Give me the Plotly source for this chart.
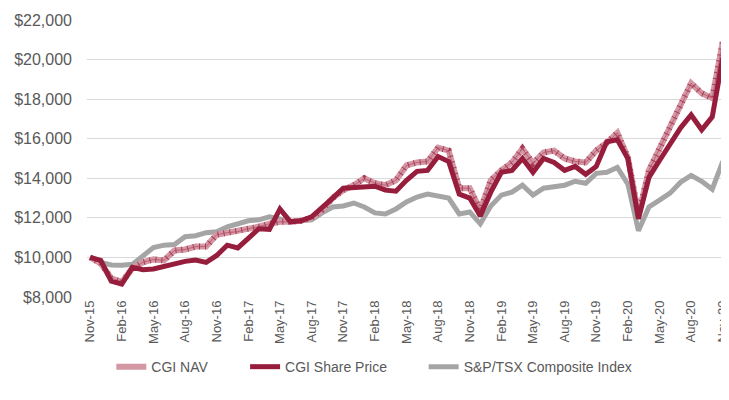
import plotly.graph_objects as go

months = ["Nov-15","Dec-15","Jan-16","Feb-16","Mar-16","Apr-16","May-16","Jun-16","Jul-16","Aug-16","Sep-16","Oct-16",
          "Nov-16","Dec-16","Jan-17","Feb-17","Mar-17","Apr-17","May-17","Jun-17","Jul-17","Aug-17","Sep-17","Oct-17",
          "Nov-17","Dec-17","Jan-18","Feb-18","Mar-18","Apr-18","May-18","Jun-18","Jul-18","Aug-18","Sep-18","Oct-18",
          "Nov-18","Dec-18","Jan-19","Feb-19","Mar-19","Apr-19","May-19","Jun-19","Jul-19","Aug-19","Sep-19","Oct-19",
          "Nov-19","Dec-19","Jan-20","Feb-20","Mar-20","Apr-20","May-20","Jun-20","Jul-20","Aug-20","Sep-20","Oct-20",
          "Nov-20"]

cgi_nav = [10000, 9700, 8950, 8750, 9450, 9750, 9900, 9850, 10350, 10400, 10550, 10550,
           11150, 11250, 11300, 11450, 11550, 11700, 11800, 11800, 11850, 12000, 12400, 13000,
           13400, 13650, 14000, 13750, 13650, 13900, 14650, 14800, 14850, 15550, 15400, 13500,
           13500, 12400, 13900, 14400, 14800, 15500, 14750, 15300, 15400, 15000, 14850, 14800,
           15400, 15800, 16300, 15050, 12150, 14400, 15500, 16600, 17600, 18800, 18300, 18050,
           20900]

cgi_share = [10000, 9850, 8800, 8650, 9500, 9380, 9420, 9550, 9680, 9800, 9870, 9750,
             10100, 10620, 10480, 10950, 11450, 11420, 12450, 11800, 11850, 12050, 12500, 13000,
             13500, 13520, 13600, 13600, 13400, 13350, 13900, 14350, 14400, 15100, 14850, 13200,
             13000, 12100, 13300, 14300, 14400, 15000, 14300, 15000, 14800, 14400, 14600, 14200,
             14600, 15850, 15950, 15000, 11950, 14050, 14900, 15750, 16550, 17200, 16450, 17100,
             20100]

sptsx = [10000, 9750, 9620, 9600, 9650, 10100, 10500, 10620, 10650, 11050, 11100, 11250,
         11300, 11550, 11700, 11850, 11900, 12050, 11950, 11800, 11850, 11900, 12250, 12550,
         12600, 12750, 12550, 12250, 12200, 12450, 12800, 13050, 13200, 13100, 13000, 12200,
         12300, 11700, 12600, 13150, 13300, 13650, 13150, 13500, 13600, 13650, 13850, 13750,
         14250, 14300, 14550, 13700, 11350, 12550, 12900, 13250, 13800, 14150, 13850, 13450,
         14850]

tick_labels = months[::3]
y_ticks = [8000, 10000, 12000, 14000, 16000, 18000, 20000, 22000]

x = list(range(len(months)))
GREY_TXT = "#595959"
LEG_FONT = dict(size=14, color=GREY_TXT, family="Liberation Sans Narrow, Liberation Sans, sans-serif")

fig = go.Figure()
fig.add_trace(go.Scatter(x=x, y=sptsx, mode="lines", name="S&P/TSX Composite Index",
                         line=dict(color="#a5a5a5", width=5), legend="legend3"))
fig.add_trace(go.Scatter(x=x, y=cgi_nav, mode="lines", name="CGI NAV",
                         line=dict(color="#d497a4", width=6), legend="legend"))
fig.add_trace(go.Scatter(x=x, y=cgi_nav, mode="lines", showlegend=False, hoverinfo="skip",
                         line=dict(color="#a83a56", width=6, dash="1px,5px")))
fig.add_trace(go.Scatter(x=x, y=cgi_nav, mode="lines", showlegend=False, hoverinfo="skip",
                         line=dict(color="rgba(168,58,86,0.55)", width=1)))
fig.add_trace(go.Scatter(x=x, y=cgi_share, mode="lines", name="CGI Share Price",
                         line=dict(color="#971d3d", width=5), legend="legend2"))

leg_y = -0.253
fig.update_layout(
    width=721, height=392,
    margin=dict(l=79, r=2, t=12, b=103),
    paper_bgcolor="white", plot_bgcolor="white",
    font=dict(family="Liberation Sans, Arial, sans-serif", color=GREY_TXT),
    showlegend=True,
    legend=dict(orientation="h", x=0.038, xanchor="left", y=leg_y, yanchor="middle", font=LEG_FONT),
    legend2=dict(orientation="h", x=0.247, xanchor="left", y=leg_y, yanchor="middle", font=LEG_FONT),
    legend3=dict(orientation="h", x=0.526, xanchor="left", y=leg_y, yanchor="middle", font=LEG_FONT),
)
fig.update_xaxes(range=[-0.3, 60.4], tickmode="array", tickvals=x[::3], ticktext=tick_labels,
                 tickangle=-90, tickfont=dict(size=13, color=GREY_TXT), automargin=False,
                 ticklabeloverflow="allow",
                 showgrid=False, zeroline=False, showline=False, ticks="")
fig.update_yaxes(range=[8000, 22000], tickvals=y_ticks, tickformat="$,.0f",
                 tickfont=dict(size=16, color=GREY_TXT), automargin=False,
                 showgrid=True, gridcolor="#d9d9d9", gridwidth=1, zeroline=False, showline=False,
                 ticks="", ticklabelstandoff=14)

fig.write_html("out.html")
